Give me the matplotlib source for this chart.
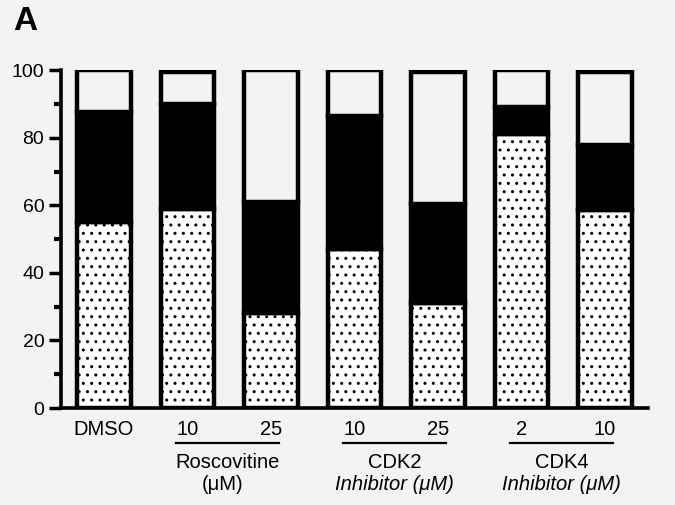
import matplotlib
matplotlib.use("Agg")
import matplotlib.pyplot as plt
import matplotlib.transforms as mtransforms

# Werte (Prozent je Segment)
bar_labels = ["DMSO", "10", "25", "10", "25", "2", "10"]
dotted = [55, 59, 28, 47, 31, 81, 58.5]
black = [32.5, 31, 33, 39.5, 29.5, 8, 19.5]
white = [12.5, 9.5, 39, 13.5, 39, 11, 21.5]

# Gruppen: (erster Balken, letzter Balken, Zeile 1, Zeile 2)
groups = [
    (1, 2, "Roscovitine", "(μM)"),
    (3, 4, "CDK2", "Inhibitor (μM)"),
    (5, 6, "CDK4", "Inhibitor (μM)"),
]

bg = "#f3f3f3"
plt.rcParams["font.family"] = ["Liberation Sans", "DejaVu Sans"]
plt.rcParams["hatch.linewidth"] = 1.0

fig = plt.figure(figsize=(6.75, 5.05), dpi=100, facecolor=bg)
ax = fig.add_axes([0.0904, 0.192, 0.870, 0.669])
ax.set_facecolor(bg)

x = list(range(len(dotted)))
width = 0.64
lw = 3.2

bottom_black = dotted
bottom_white = [d + b for d, b in zip(dotted, black)]

ax.bar(x, dotted, width=width, color="white", edgecolor="black",
       linewidth=lw, hatch="..", zorder=2)
ax.bar(x, black, bottom=bottom_black, width=width, color="black",
       edgecolor="black", linewidth=lw, zorder=2)
ax.bar(x, white, bottom=bottom_white, width=width, color=bg,
       edgecolor="black", linewidth=lw, zorder=2)

ax.set_xlim(-0.515, 6.52)
ax.set_ylim(0, 100)
ax.set_yticks([0, 20, 40, 60, 80, 100])
ax.set_yticks([10, 30, 50, 70, 90], minor=True)
ax.set_xticks([])
ax.tick_params(axis="y", which="major", length=9, width=2.5, labelsize=14, pad=3)
ax.tick_params(axis="y", which="minor", length=5, width=3)

for s in ["top", "right"]:
    ax.spines[s].set_visible(False)
ax.spines["left"].set_linewidth(2.6)
ax.spines["bottom"].set_linewidth(2.6)
ax.spines["left"].set_bounds(0, 100)

# Beschriftungen unter den Balken
trans = mtransforms.blended_transform_factory(ax.transData, fig.transFigure)
for xi, lab in zip(x, bar_labels):
    ax.text(xi, 0.150, lab, transform=trans, ha="center", va="center", fontsize=14.5)

for i0, i1, line1, line2 in groups:
    ax.plot([i0 - 0.14, i1 + 0.1], [0.1228, 0.1228], color="black", lw=1.6,
            transform=trans, clip_on=False)
    mid = (i0 - 0.14 + i1 + 0.1) / 2
    ax.text(mid, 0.0851, line1, transform=trans, ha="center", va="center", fontsize=14.5)
    if line2.startswith("Inhibitor"):
        ax.text(mid, 0.040, line2, transform=trans, ha="center", va="center",
                fontsize=14.5, style="italic")
    else:
        ax.text(mid - 0.06, 0.040, line2, transform=trans, ha="center", va="center",
                fontsize=14.5)

fig.text(0.019, 0.94, "A", fontsize=24, fontweight="bold", ha="left", va="baseline")

fig.savefig("out.png", dpi=100, facecolor=bg)
